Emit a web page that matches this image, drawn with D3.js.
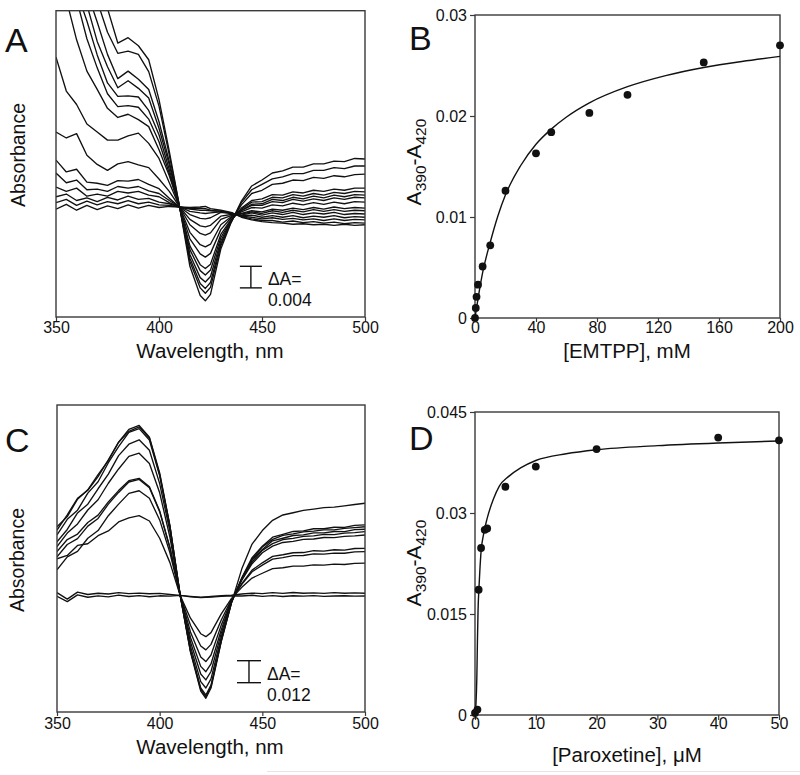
<!DOCTYPE html>
<html><head><meta charset="utf-8">
<script src="https://cdn.jsdelivr.net/npm/d3@7"></script>
<style>
body{margin:0;background:#fff}
svg{display:block}
text{font-family:"Liberation Sans",Arial,Helvetica,sans-serif;fill:#111}
</style></head><body>
<svg id="fig" width="800" height="775"></svg>
<script>
// ---------- DATA ----------
// wavelength grid (nm) shared by all difference spectra
const wavelengths = [350,355,360,365,370,375,380,385,390,395,400,405,410,415,420,422.5,425,430,435,440,445,450,455,460,465,470,475,480,485,490,495,500];

// Panel A: EMTPP difference spectra, values in milli-absorbance (mA)
const a01 = [95,80,66,54,44,36.8,30.4,31.4,29.9,27.3,19.9,10.3,0,-11.0,-16.4,-17.4,-16.2,-7.8,-2.9,1.1,3.9,5.0,6.3,6.7,7.4,7.4,8.0,8.0,8.5,8.4,9.0,8.9];
const a02 = [80,66,54,45,38.2,32.4,28.5,28.9,28.3,25.1,18.7,9.6,0,-10.1,-15.0,-16.0,-14.9,-7.2,-2.8,0.8,3.2,4.2,5.2,5.6,6.2,6.2,6.8,6.8,7.3,7.1,7.6,7.6];
const a03 = [70,58,48,40,34.3,28.3,23.8,25.2,23.7,21.8,15.8,8.4,0,-9.5,-14.2,-15.1,-14.0,-6.8,-2.7,0.4,2.5,3.1,4.2,4.4,5.0,4.9,5.5,5.3,5.8,5.6,6.0,6.1];
const a04 = [62,51,43,37.5,30.7,26.0,22.1,23.4,22.0,20.2,14.6,7.8,0,-8.8,-13.1,-13.9,-12.9,-6.3,-2.5,-0.2,1.2,1.5,2.3,2.2,2.8,2.6,3.1,2.9,3.3,3.1,3.5,3.5];
const a05 = [58,47,40,34.5,28.2,23.0,20.5,20.6,20.4,17.9,13.4,6.9,0,-7.9,-11.8,-12.6,-11.7,-5.7,-2.4,-0.4,0.9,1.0,1.8,1.7,2.3,2.0,2.5,2.2,2.7,2.5,2.9,2.8];
const a06 = [54,44,38.5,31.2,25.8,21.0,18.6,18.8,18.5,16.3,12.1,6.2,0,-7.2,-10.7,-11.4,-10.6,-5.1,-2.3,-0.6,0.5,0.6,1.4,1.2,1.8,1.5,2.0,1.7,2.2,1.9,2.3,2.2];
const a07 = [46,38.5,31,25.2,21.8,18.3,16.6,17.2,16.2,14.9,10.6,5.8,0,-5.9,-8.7,-9.3,-8.6,-4.2,-2.0,-0.7,0.3,0.3,1.0,0.8,1.4,1.1,1.5,1.2,1.7,1.4,1.8,1.7];
const a08 = [27.8,21.5,19.0,15.4,13.9,12.4,12.4,13.2,13.7,11.8,9.0,4.5,0,-4.7,-7.0,-7.4,-6.9,-3.3,-1.8,-0.9,-0.1,-0.2,0.4,0.2,0.7,0.4,0.8,0.5,0.9,0.6,1.0,0.9];
const a09 = [13.9,12.8,13.6,9.6,7.9,6.8,8.0,8.4,7.8,7.3,5.2,2.9,0,-3.3,-4.9,-5.2,-4.8,-2.3,-1.6,-1.2,-0.7,-0.9,-0.4,-0.6,-0.2,-0.5,-0.1,-0.4,0.0,-0.3,-0.1,-0.2];
const a10 = [8.7,6.5,7.0,4.6,4.4,4.0,4.9,4.8,5.1,4.2,3.4,1.6,0,-2.3,-3.5,-3.7,-3.4,-1.7,-1.4,-1.3,-0.9,-1.2,-0.7,-1.0,-0.6,-0.9,-0.5,-0.8,-0.5,-0.8,-0.6,-0.7];
const a11 = [6.3,4.5,5.0,3.2,3.3,2.9,3.8,3.5,3.8,3.0,2.5,1.2,0,-1.4,-2.1,-2.2,-2.0,-1.0,-1.2,-1.5,-1.1,-1.5,-1.1,-1.4,-1.0,-1.4,-1.1,-1.3,-1.0,-1.4,-1.2,-1.3];
const a12 = [3.7,2.9,3.5,2.0,2.4,2.0,2.9,2.6,2.9,2.2,1.9,0.8,0,-0.8,-1.1,-1.2,-1.1,-0.9,-1.1,-1.6,-1.5,-1.9,-1.6,-1.9,-1.6,-2.0,-1.7,-1.9,-1.6,-2.0,-1.8,-1.9];
const a13 = [1.9,2.4,1.2,1.7,1.0,1.8,1.3,2.0,1.4,1.6,0.9,0.6,0,-0.4,-0.6,-0.6,-0.7,-0.8,-1.1,-1.7,-1.9,-2.2,-2.0,-2.3,-2.1,-2.4,-2.2,-2.5,-2.2,-2.5,-2.3,-2.4];
const a14 = [0.8,1.4,0.3,1.1,0.4,1.0,0.6,1.2,0.6,0.9,0.4,0.3,0,-0.3,-0.2,-0.3,-0.6,-0.8,-1.1,-1.8,-2.2,-2.5,-2.5,-2.8,-2.6,-2.9,-2.7,-3.0,-2.8,-3.1,-2.9,-3.0];
const a15 = [-0.4,0.5,-0.6,0.3,-0.5,0.2,-0.3,0.4,-0.2,0.3,-0.1,0.1,0,-0.1,0.0,0.1,-0.3,-0.6,-1.0,-1.9,-2.4,-2.7,-2.9,-3.0,-3.2,-3.1,-3.3,-3.2,-3.4,-3.2,-3.4,-3.3];
const spectraA = [a01,a02,a03,a04,a05,a06,a07,a08,a09,a10,a11,a12,a13,a14,a15];

// Panel C: paroxetine difference spectra, milli-absorbance
const c01 = [35.7,44.0,53.0,57.4,64.8,74.0,83.6,90.6,92.8,86.3,66.8,38.0,0,-30.9,-52.2,-56.1,-50.5,-25.2,-3.9,14.5,28.0,35.4,41.0,43.9,45.1,46.4,47.1,47.9,48.2,48.9,49.6,50.3];
const c02 = [37.5,43.0,52.5,57.6,65.9,73.6,83.6,89.5,92.0,85.9,66.0,37.8,0,-30.4,-51.3,-55.2,-49.7,-24.8,-3.9,9.6,20.6,26.8,31.8,33.3,34.9,35.2,36.4,36.4,37.2,37.1,38.2,38.5];
const c03 = [33.0,41.5,46.5,55.8,62.0,72.4,81.2,89.0,91.0,84.8,65.3,37.4,0,-29.9,-50.5,-54.3,-48.9,-24.4,-3.8,9.4,19.7,26.5,30.6,32.8,33.6,34.7,35.1,35.8,35.8,36.6,37.0,37.5];
const c04 = [29.3,36.0,45.0,49.8,58.2,66.2,76.3,82.5,84.9,79.2,61.0,34.9,0,-27.8,-47.0,-50.5,-45.5,-22.7,-3.5,9.0,19.3,25.1,29.8,31.2,32.7,33.0,34.1,34.1,34.9,34.8,35.9,36.1];
const c05 = [26.6,34.0,39.0,46.6,52.2,61.2,69.0,75.9,77.6,72.0,56.0,31.7,0,-25.4,-42.9,-46.1,-41.5,-20.7,-3.2,8.7,18.2,24.6,28.3,30.5,31.1,32.2,32.5,33.3,33.2,34.0,34.3,34.8];
const c06 = [23.9,30.5,33.5,39.8,43.8,51.0,57.2,62.6,63.9,59.3,46.1,26.1,0,-22.9,-38.7,-41.6,-37.4,-18.7,-2.9,8.3,17.3,23.3,26.9,28.9,29.5,30.6,30.8,31.6,31.5,32.2,32.5,33.0];
const c07 = [21.1,27.8,31.0,37.8,42.0,49.8,56.2,61.9,63.3,58.7,45.7,25.9,0,-19.9,-33.6,-36.1,-32.5,-16.2,-2.5,6.4,13.8,17.8,21.3,22.2,23.3,23.4,24.4,24.2,24.9,24.7,25.6,25.7];
const c08 = [14.0,21.0,24.0,31.2,35.4,43.5,49.8,55.7,57.1,53.0,41.2,23.3,0,-16.3,-27.6,-29.7,-26.7,-13.4,-2.1,6.0,12.9,16.5,19.8,20.6,21.7,21.8,22.7,22.5,23.1,23.0,23.8,23.9];
const c09 = [20.0,21.8,27.3,28.2,32.6,35.2,40.1,42.3,43.5,40.6,31.2,17.9,0,-12.4,-20.9,-22.5,-20.3,-10.1,-1.6,4.4,9.5,12.1,14.6,15.1,16.0,16.0,16.7,16.5,17.1,16.9,17.5,17.6];
const c10 = [1.5,-2.0,1.8,0.5,1.2,0.8,1.5,1.0,1.3,0.9,1.1,0.5,0,-0.5,-1.0,-0.8,-0.6,-0.2,0.2,0.8,1.3,1.0,1.5,1.1,1.6,1.2,1.4,1.1,1.5,1.2,1.4,1.2];
const c11 = [-0.5,-3.4,0.3,-1.0,-0.2,-0.8,0.2,-0.6,-0.1,-0.7,-0.2,-0.4,0,-0.8,-1.2,-1.0,-0.9,-0.5,-0.2,-0.3,0.1,-0.5,-0.1,-0.6,-0.2,-0.4,-0.1,-0.5,-0.3,-0.2,-0.4,-0.3];
const spectraC = [c01,c02,c03,c04,c05,c06,c07,c08,c09,c10,c11];

const spectrumTicks = [350,400,450,500];

// Panel B: EMTPP titration
const emtppConc = [0,0.5,1,2,5,10,20,40,50,75,100,150,200];
const emtppDA   = [0,0.0010,0.0021,0.0033,0.0051,0.0072,0.0126,0.0163,0.0184,0.0203,0.0221,0.0253,0.0270];
const emtppFitConc = [0,2.5,5,10,15,20,30,40,50,60,75,100,125,150,175,200];
const emtppFitDA   = [0,0.0024,0.0045,0.0075,0.0101,0.0122,0.0151,0.0172,0.0187,0.0199,0.0213,0.0229,0.0240,0.0248,0.0254,0.0259];
const emtppXTicks = [0,40,80,120,160,200];
const emtppYTicks = [0,0.01,0.02,0.03];
const emtppYLabels = ["0","0.01","0.02","0.03"];

// Panel D: paroxetine titration
const paroxConc = [0,0.4,0.6,1,1.6,2,5,10,20,40,50];
const paroxDA   = [0.0003,0.0008,0.0186,0.0248,0.0275,0.0277,0.0339,0.0369,0.0395,0.0412,0.0408];
const paroxFitConc = [0,0.15,0.3,0.4,0.5,0.66,0.8,1,1.4,2,3,4,5.5,7.5,10,15,20,30,40,50];
const paroxFitDA   = [0,0.0015,0.0055,0.011,0.0155,0.019,0.0215,0.0243,0.0268,0.0292,0.0320,0.0340,0.0354,0.0367,0.0378,0.0388,0.0394,0.0400,0.0404,0.0407];
const paroxXTicks = [0,10,20,30,40,50];
const paroxYTicks = [0,0.015,0.03,0.045];
const paroxYLabels = ["0","0.015","0.03","0.045"];

// ---------- DRAWING ----------
const svg = d3.select("#fig");
svg.append("rect").attr("width",800).attr("height",775).attr("fill","#fff");
const FRAME = "#3a3a3a", INK = "#111";
const TICKFONT = 16, TITLEFONT = 20.5, LETTERFONT = 34;

function frame(x, y){
  const [x0,x1] = x.range(), [y0,y1] = y.range();
  svg.append("rect").attr("x",x0).attr("y",y1).attr("width",x1-x0).attr("height",y0-y1)
    .attr("fill","none").attr("stroke",FRAME).attr("stroke-width",1.4);
}
function styleAxis(g){
  g.select(".domain").remove();
  g.selectAll(".tick line").attr("stroke",FRAME).attr("stroke-width",1.2);
  g.selectAll(".tick text").attr("font-size",TICKFONT).attr("fill",INK)
    .attr("font-family",'"Liberation Sans",Arial,sans-serif');
}
function clip(id, x, y){
  const [x0,x1] = x.range(), [y0,y1] = y.range();
  svg.append("clipPath").attr("id",id).append("rect")
    .attr("x",x0).attr("y",y1).attr("width",x1-x0).attr("height",y0-y1);
}
function letter(t, x, y){
  svg.append("text").attr("x",x).attr("y",y).attr("font-size",LETTERFONT).text(t);
}
function hTitle(t, x, y){
  svg.append("text").attr("x",x).attr("y",y).attr("text-anchor","middle")
    .attr("font-size",TITLEFONT).text(t);
}
function vTitle(t, x, y){
  svg.append("text").attr("transform",`translate(${x},${y}) rotate(-90)`)
    .attr("text-anchor","middle").attr("font-size",TITLEFONT-1).text(t);
}
function a390Title(x, y){
  const t = svg.append("text").attr("transform",`translate(${x},${y}) rotate(-90)`)
    .attr("text-anchor","middle").attr("font-size",21);
  t.append("tspan").text("A");
  t.append("tspan").attr("font-size",15.5).attr("dy",5).text("390");
  t.append("tspan").attr("dy",-5).text("-A");
  t.append("tspan").attr("font-size",15.5).attr("dy",5).text("420");
}
function scaleBar(x, y, xc, halfW, v0, v1, label){
  const xm = x(xc), xl = xm - halfW, xr = xm + halfW;
  const yt = y(v1), yb = y(v0);
  const g = svg.append("g").attr("stroke",INK).attr("stroke-width",1.4);
  g.append("line").attr("x1",xl).attr("x2",xr).attr("y1",yt).attr("y2",yt);
  g.append("line").attr("x1",xl).attr("x2",xr).attr("y1",yb).attr("y2",yb);
  g.append("line").attr("x1",xm).attr("x2",xm).attr("y1",yt).attr("y2",yb);
  svg.append("text").attr("x",xr+6).attr("y",yb-3).attr("font-size",17.5).text("\u0394A=");
  svg.append("text").attr("x",xr+6).attr("y",yb+18).attr("font-size",17.5).text(label);
}

// ----- Panel A -----
const xA = d3.scaleLinear().domain([350,500]).range([56,365]);
const yA = d3.scaleLinear().domain([-20.4,36.4]).range([317,10.7]);
clip("clipA", xA, yA);
const lineA = d3.line().x((d,i)=>xA(wavelengths[i])).y(d=>yA(d));
svg.append("g").attr("clip-path","url(#clipA)").selectAll("path").data(spectraA).join("path")
  .attr("d",lineA).attr("fill","none").attr("stroke",INK).attr("stroke-width",1.35)
  .attr("stroke-linejoin","round");
frame(xA, yA);
svg.append("g").attr("transform","translate(0,317)")
  .call(d3.axisBottom(xA).tickValues(spectrumTicks).tickSize(4).tickPadding(1).tickFormat(d3.format("d")))
  .call(styleAxis);
scaleBar(xA, yA, 444.6, 11, -15, -11, "0.004");
hTitle("Wavelength, nm", 210, 358);
vTitle("Absorbance", 25, 155);
letter("A", 5, 52);

// ----- Panel C -----
const xC = d3.scaleLinear().domain([350,500]).range([57,365]);
const yC = d3.scaleLinear().domain([-63.6,103.9]).range([712,405]);
clip("clipC", xC, yC);
const lineC = d3.line().x((d,i)=>xC(wavelengths[i])).y(d=>yC(d));
svg.append("g").attr("clip-path","url(#clipC)").selectAll("path").data(spectraC).join("path")
  .attr("d",lineC).attr("fill","none").attr("stroke",INK).attr("stroke-width",1.35)
  .attr("stroke-linejoin","round");
frame(xC, yC);
svg.append("g").attr("transform","translate(0,712)")
  .call(d3.axisBottom(xC).tickValues(spectrumTicks).tickSize(4).tickPadding(1.5).tickFormat(d3.format("d")))
  .call(styleAxis);
scaleBar(xC, yC, 443.5, 12, -47.6, -35.6, "0.012");
hTitle("Wavelength, nm", 210, 754);
vTitle("Absorbance", 24, 560);
letter("C", 5, 452);

// ----- Panel B -----
const xB = d3.scaleLinear().domain([0,200]).range([475,780]);
const yB = d3.scaleLinear().domain([0,0.03]).range([318,15]);
clip("clipB", xB, yB);
frame(xB, yB);
svg.append("g").attr("transform","translate(0,318)")
  .call(d3.axisBottom(xB).tickValues(emtppXTicks).tickSize(4).tickPadding(0).tickFormat(d3.format("d")))
  .call(styleAxis);
svg.append("g").attr("transform","translate(475,0)")
  .call(d3.axisLeft(yB).tickValues(emtppYTicks).tickSize(5).tickPadding(3).tickFormat((d,i)=>emtppYLabels[i]))
  .call(styleAxis);
svg.append("path").datum(emtppFitConc)
  .attr("d", d3.line().x(d=>xB(d)).y((d,i)=>yB(emtppFitDA[i])).curve(d3.curveMonotoneX))
  .attr("fill","none").attr("stroke",INK).attr("stroke-width",1.4).attr("clip-path","url(#clipB)");
svg.append("g").selectAll("circle").data(emtppConc).join("circle")
  .attr("cx",d=>xB(d)).attr("cy",(d,i)=>yB(emtppDA[i])).attr("r",3.9).attr("fill",INK);
hTitle("[EMTPP], mM", 627, 358);
a390Title(421, 162);
letter("B", 409, 50);

// ----- Panel D -----
const xD = d3.scaleLinear().domain([0,50]).range([475,779]);
const yD = d3.scaleLinear().domain([0,0.045]).range([715,412]);
clip("clipD", xD, yD);
frame(xD, yD);
svg.append("g").attr("transform","translate(0,715)")
  .call(d3.axisBottom(xD).tickValues(paroxXTicks).tickSize(5).tickPadding(-2.5).tickFormat(d3.format("d")))
  .call(styleAxis);
svg.append("g").attr("transform","translate(475,0)")
  .call(d3.axisLeft(yD).tickValues(paroxYTicks).tickSize(5).tickPadding(3).tickFormat((d,i)=>paroxYLabels[i]))
  .call(styleAxis);
svg.append("path").datum(paroxFitConc)
  .attr("d", d3.line().x(d=>xD(d)).y((d,i)=>yD(paroxFitDA[i])).curve(d3.curveMonotoneX))
  .attr("fill","none").attr("stroke",INK).attr("stroke-width",1.4).attr("clip-path","url(#clipD)");
svg.append("g").selectAll("circle").data(paroxConc).join("circle")
  .attr("cx",d=>xD(d)).attr("cy",(d,i)=>yD(paroxDA[i])).attr("r",3.9).attr("fill",INK);
hTitle("[Paroxetine], \u03BCM", 627, 762);
a390Title(421, 563);
letter("D", 409, 450);

// faint scan edge at the bottom of the figure
svg.append("line").attr("x1",267).attr("x2",800).attr("y1",771.5).attr("y2",771.5)
  .attr("stroke","#e4e4e4").attr("stroke-width",1);
</script>
</body></html>
